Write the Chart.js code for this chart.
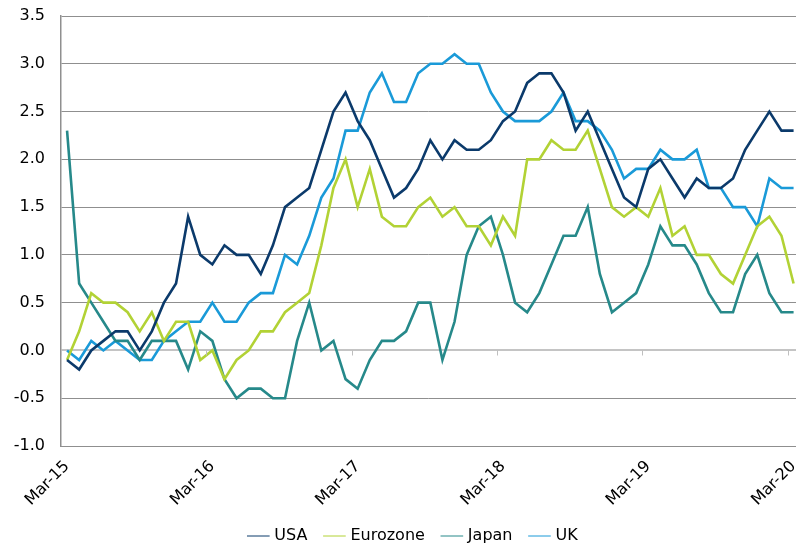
<!DOCTYPE html>
<html>
<head>
<meta charset="utf-8">
<script src="https://cdn.jsdelivr.net/npm/chart.js@4/dist/chart.umd.min.js"></script>
<style>
  html, body { margin: 0; padding: 0; background: #fff; }
  #caixa { width: 796px; height: 546px; }
</style>
</head>
<body>
<div id="caixa"><canvas id="inflacao" width="796" height="546"></canvas></div>
<script>
  // meses (eixo x)
  var meses = [
    'Mar-15','Apr-15','May-15','Jun-15','Jul-15','Aug-15','Sep-15','Oct-15','Nov-15','Dec-15',
    'Jan-16','Feb-16','Mar-16','Apr-16','May-16','Jun-16','Jul-16','Aug-16','Sep-16','Oct-16','Nov-16','Dec-16',
    'Jan-17','Feb-17','Mar-17','Apr-17','May-17','Jun-17','Jul-17','Aug-17','Sep-17','Oct-17','Nov-17','Dec-17',
    'Jan-18','Feb-18','Mar-18','Apr-18','May-18','Jun-18','Jul-18','Aug-18','Sep-18','Oct-18','Nov-18','Dec-18',
    'Jan-19','Feb-19','Mar-19','Apr-19','May-19','Jun-19','Jul-19','Aug-19','Sep-19','Oct-19','Nov-19','Dec-19',
    'Jan-20','Feb-20','Mar-20'
  ];
  // meses que recebem rotulo
  var rotulosX = ['Mar-15', 'Mar-16', 'Mar-17', 'Mar-18', 'Mar-19', 'Mar-20'];

  var usa = [
    -0.1, -0.2, 0.0, 0.1, 0.2, 0.2, 0.0, 0.2, 0.5, 0.7,
    1.4, 1.0, 0.9, 1.1, 1.0, 1.0, 0.8, 1.1, 1.5, 1.6, 1.7, 2.1,
    2.5, 2.7, 2.4, 2.2, 1.9, 1.6, 1.7, 1.9, 2.2, 2.0, 2.2, 2.1,
    2.1, 2.2, 2.4, 2.5, 2.8, 2.9, 2.9, 2.7, 2.3, 2.5, 2.2, 1.9,
    1.6, 1.5, 1.9, 2.0, 1.8, 1.6, 1.8, 1.7, 1.7, 1.8, 2.1, 2.3,
    2.5, 2.3, 2.3
  ];
  var eurozone = [
    -0.1, 0.2, 0.6, 0.5, 0.5, 0.4, 0.2, 0.4, 0.1, 0.3,
    0.3, -0.1, 0.0, -0.3, -0.1, 0.0, 0.2, 0.2, 0.4, 0.5, 0.6, 1.1,
    1.7, 2.0, 1.5, 1.9, 1.4, 1.3, 1.3, 1.5, 1.6, 1.4, 1.5, 1.3,
    1.3, 1.1, 1.4, 1.2, 2.0, 2.0, 2.2, 2.1, 2.1, 2.3, 1.9, 1.5,
    1.4, 1.5, 1.4, 1.7, 1.2, 1.3, 1.0, 1.0, 0.8, 0.7, 1.0, 1.3,
    1.4, 1.2, 0.7
  ];
  var japan = [
    2.3, 0.7, 0.5, 0.3, 0.1, 0.1, -0.1, 0.1, 0.1, 0.1,
    -0.2, 0.2, 0.1, -0.3, -0.5, -0.4, -0.4, -0.5, -0.5, 0.1, 0.5, 0.0,
    0.1, -0.3, -0.4, -0.1, 0.1, 0.1, 0.2, 0.5, 0.5, -0.1, 0.3, 1.0,
    1.3, 1.4, 1.0, 0.5, 0.4, 0.6, 0.9, 1.2, 1.2, 1.5, 0.8, 0.4,
    0.5, 0.6, 0.9, 1.3, 1.1, 1.1, 0.9, 0.6, 0.4, 0.4, 0.8, 1.0,
    0.6, 0.4, 0.4
  ];
  var uk = [
    0.0, -0.1, 0.1, 0.0, 0.1, 0.0, -0.1, -0.1, 0.1, 0.2,
    0.3, 0.3, 0.5, 0.3, 0.3, 0.5, 0.6, 0.6, 1.0, 0.9, 1.2, 1.6,
    1.8, 2.3, 2.3, 2.7, 2.9, 2.6, 2.6, 2.9, 3.0, 3.0, 3.1, 3.0,
    3.0, 2.7, 2.5, 2.4, 2.4, 2.4, 2.5, 2.7, 2.4, 2.4, 2.3, 2.1,
    1.8, 1.9, 1.9, 2.1, 2.0, 2.0, 2.1, 1.7, 1.7, 1.5, 1.5, 1.3,
    1.8, 1.7, 1.7
  ];

  var fonte = { family: 'DejaVu Sans', size: 16 };

  function pontos(serie) {
    return serie.map(function (v, i) { return { x: i, y: v }; });
  }

  // tracinhos do eixo x sobre a linha do zero
  var marcasZero = {
    id: 'marcasZero',
    afterLayout: function (chart) {
      // legenda um pouco a direita, como no original
      chart.legend.left += 16;
      chart.legend.right += 16;
    },
    afterDatasetsDraw: function (chart) {
      var sx = chart.scales.x, sy = chart.scales.y, ctx = chart.ctx;
      var y0 = Math.round(sy.getPixelForValue(0)) + 0.5;
      ctx.save();
      ctx.strokeStyle = '#bfbfbf';
      ctx.lineWidth = 1;
      ctx.beginPath();
      rotulosX.forEach(function (r) {
        var px = Math.round(sx.getPixelForValue(meses.indexOf(r) - 0.5)) + 0.5;
        ctx.moveTo(px, y0);
        ctx.lineTo(px, y0 + 5);
      });
      ctx.stroke();
      ctx.restore();
    }
  };

  var dados = {
    datasets: [
      { label: 'USA', data: pontos(usa), borderColor: '#0b3a6b', backgroundColor: '#0b3a6b' },
      { label: 'Eurozone', data: pontos(eurozone), borderColor: '#b2d235', backgroundColor: '#b2d235' },
      { label: 'Japan', data: pontos(japan), borderColor: '#26898a', backgroundColor: '#26898a' },
      { label: 'UK', data: pontos(uk), borderColor: '#1a9ad8', backgroundColor: '#1a9ad8' }
    ]
  };

  var options = {
    responsive: false,
    animation: false,
    layout: { padding: { top: 16, right: 0, bottom: -8, left: 0 } },
    elements: {
      point: { radius: 0 },
      line: { borderWidth: 2.6, tension: 0 }
    },
    plugins: {
      legend: {
        position: 'bottom',
        labels: {
          usePointStyle: true,
          pointStyle: 'line',
          boxWidth: 16,
          boxHeight: 16,
          padding: 19,
          color: '#000',
          font: fonte
        }
      },
      tooltip: { enabled: false }
    },
    scales: {
      x: {
        type: 'linear',
        min: -0.5,
        max: 60.2,
        grid: { display: false },
        border: { display: true, color: '#8f8f8f', width: 1 },
        afterBuildTicks: function (s) {
          s.ticks = rotulosX.map(function (r) { return { value: meses.indexOf(r) }; });
        },
        afterFit: function (s) {
          s.paddingLeft = 0;
          s.paddingRight = 0;
          s.height = 63;
        },
        ticks: {
          autoSkip: false,
          minRotation: 45,
          maxRotation: 45,
          padding: 3,
          color: '#000',
          font: fonte,
          callback: function (v) { return meses[v]; }
        }
      },
      y: {
        min: -1,
        max: 3.5,
        afterFit: function (s) {
          s.width = 61;
          s.paddingTop = 0;
          s.paddingBottom = 0;
        },
        ticks: {
          stepSize: 0.5,
          padding: 16,
          color: '#000',
          font: fonte,
          callback: function (v) { return v.toFixed(1); }
        },
        grid: {
          drawTicks: false,
          color: function (c) { return c.tick && c.tick.value === 0 ? '#c4c4c4' : '#8f8f8f'; },
          lineWidth: function (c) { return c.tick && c.tick.value === 0 ? 2 : 1; }
        },
        border: { color: '#8f8f8f', width: 1.5 }
      }
    }
  };

  var ctx = document.getElementById('inflacao').getContext('2d');
  var graficoInflacao = new Chart(ctx, {
    type: 'line',
    data: dados,
    options: options,
    plugins: [marcasZero]
  });
</script>
</body>
</html>
